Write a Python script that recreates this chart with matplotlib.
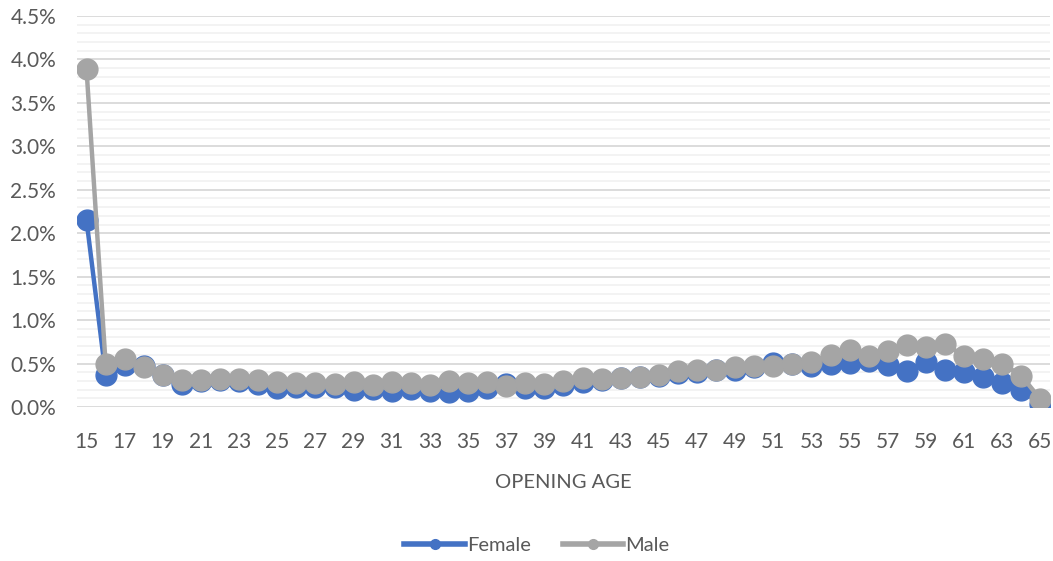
import matplotlib
matplotlib.use("Agg")
import matplotlib.pyplot as plt
from matplotlib.ticker import MultipleLocator, FuncFormatter
from matplotlib.lines import Line2D

ages = list(range(15, 66))

female = [2.15, 0.37, 0.48, 0.47, 0.37, 0.27, 0.30, 0.31, 0.30, 0.27,
          0.22, 0.23, 0.23, 0.23, 0.20, 0.21, 0.18, 0.21, 0.18, 0.17,
          0.18, 0.22, 0.27, 0.22, 0.22, 0.25, 0.29, 0.31, 0.33, 0.35,
          0.36, 0.39, 0.40, 0.43, 0.43, 0.46, 0.51, 0.49, 0.47, 0.50,
          0.51, 0.53, 0.48, 0.41, 0.52, 0.43, 0.40, 0.35, 0.28, 0.20,
          0.03]

male = [3.89, 0.50, 0.55, 0.46, 0.37, 0.31, 0.31, 0.32, 0.32, 0.31,
        0.29, 0.28, 0.28, 0.27, 0.29, 0.25, 0.29, 0.28, 0.25, 0.30,
        0.28, 0.29, 0.24, 0.28, 0.27, 0.30, 0.33, 0.32, 0.33, 0.35,
        0.37, 0.41, 0.43, 0.43, 0.46, 0.47, 0.47, 0.49, 0.52, 0.60,
        0.66, 0.59, 0.64, 0.71, 0.69, 0.72, 0.59, 0.55, 0.50, 0.36,
        0.09]

blue = "#4472C4"
grey = "#A5A5A5"
text_col = "#595959"

plt.rcParams['font.family'] = ['Lato', 'DejaVu Sans']

fig = plt.figure(figsize=(10.53, 5.61), dpi=100)
ax = fig.add_axes([0.0731, 0.2745, 0.924, 0.697])

ax.plot(ages, female, color=blue, lw=3.2, marker='o', ms=15, zorder=3)
ax.plot(ages, male, color=grey, lw=3.2, marker='o', ms=15, zorder=4)

ax.set_xlim(14.5, 65.5)
ax.set_ylim(0, 4.5)
ax.set_xticks(ages[::2])
ax.yaxis.set_major_locator(MultipleLocator(0.5))
ax.yaxis.set_minor_locator(MultipleLocator(0.1))
ax.yaxis.set_major_formatter(FuncFormatter(lambda v, p: f"{v:.1f}%"))

ax.grid(axis='y', which='major', color='#D9D9D9', lw=1.3, zorder=0)
ax.grid(axis='y', which='minor', color='#F2F2F2', lw=1.3, zorder=0)
ax.set_axisbelow(True)
for s in ax.spines.values():
    s.set_visible(False)
ax.tick_params(axis='both', which='both', length=0, labelsize=15, colors=text_col)
ax.tick_params(axis='x', pad=18)
ax.tick_params(axis='y', pad=15)

ax.set_xlabel("OPENING AGE", fontsize=14.5, color=text_col, labelpad=16)

handles = [Line2D([], [], color=blue, lw=4, marker='o', ms=7),
           Line2D([], [], color=grey, lw=4, marker='o', ms=7)]
fig.legend(handles, ["Female", "Male"], loc='center', bbox_to_anchor=(0.51, 0.027),
           ncol=2, frameon=False, fontsize=14.5, labelcolor=text_col,
           handlelength=3, handletextpad=0.1, columnspacing=1.6)

fig.savefig("out.png", dpi=100)
